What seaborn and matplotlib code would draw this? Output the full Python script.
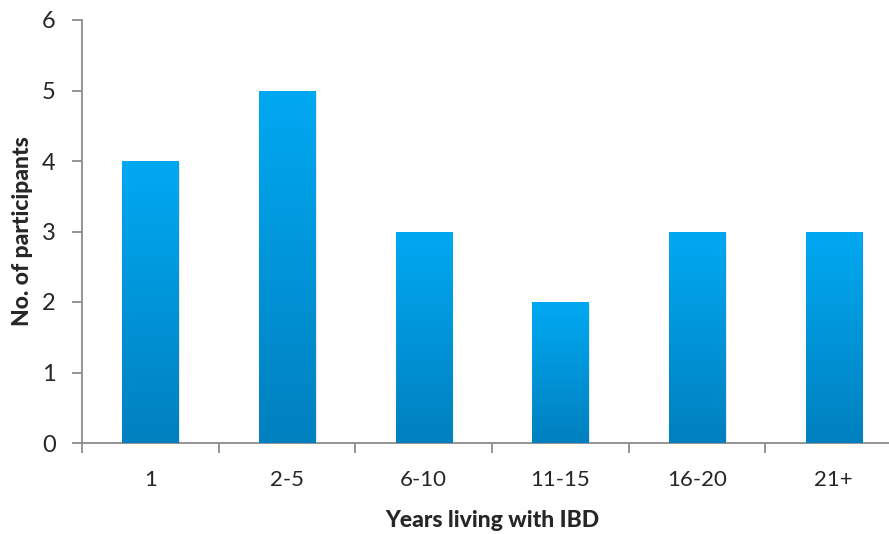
import matplotlib
matplotlib.use("Agg")
import matplotlib.pyplot as plt
import numpy as np
import pandas as pd
import seaborn as sns
from matplotlib.colors import LinearSegmentedColormap

# data
years = ["1", "2-5", "6-10", "11-15", "16-20", "21+"]
participants = [4, 5, 3, 2, 3, 3]

df = pd.DataFrame({"years": years, "n": participants})

sns.set_style("white")
plt.rcParams["font.family"] = ["Lato", "DejaVu Sans"]

fig = plt.figure(figsize=(8.89, 5.34), dpi=100)
ax = fig.add_axes([82 / 889, 1 - 443 / 534, 820 / 889, 423 / 534])

sns.barplot(data=df, x="years", y="n", color="#0096d8", width=0.41,
            saturation=1, ax=ax, zorder=2)

# gradient fill for each bar (light on top, darker at base)
cmap = LinearSegmentedColormap.from_list("blu", ["#0080bf", "#00a9f2"])
grad = np.linspace(0, 1, 256).reshape(-1, 1)
for p in ax.patches:
    x0, y0 = p.get_x(), p.get_y()
    w, h = p.get_width(), p.get_height()
    # soft shadow
    ax.add_patch(plt.Rectangle((x0 + 0.012, y0 - 0.03), w, h, color="#000000",
                               alpha=0.12, zorder=1, lw=0))
    im = ax.imshow(grad, extent=[x0, x0 + w, y0, y0 + h], origin="lower",
                   cmap=cmap, aspect="auto", zorder=3)
    im.set_clip_path(p)

ax.set_xlim(-0.5, 5.5)
ax.set_ylim(0, 6)
ax.set_yticks(range(0, 7))
ax.set_xticks(range(len(years)))
ax.set_xticklabels(years)
ax.set_xticks(np.arange(-0.5, 6.0, 1), minor=True)

for s in ["top", "right"]:
    ax.spines[s].set_visible(False)
for s in ["left", "bottom"]:
    ax.spines[s].set_color("#8c8c8c")
    ax.spines[s].set_linewidth(1.3)

ax.tick_params(axis="y", which="major", left=True, length=7, width=1.3,
               color="#8c8c8c", labelsize=17, pad=12)
ax.tick_params(axis="x", which="major", bottom=False, labelsize=16, pad=16)
ax.tick_params(axis="x", which="minor", bottom=True, length=7, width=1.3,
               color="#8c8c8c")

ax.set_xlabel("Years living with IBD", fontsize=16.5, fontweight="black",
              labelpad=14)
ax.set_ylabel("No. of participants", fontsize=16.5, fontweight="black",
              labelpad=6)

fig.savefig("out.png", dpi=100)
